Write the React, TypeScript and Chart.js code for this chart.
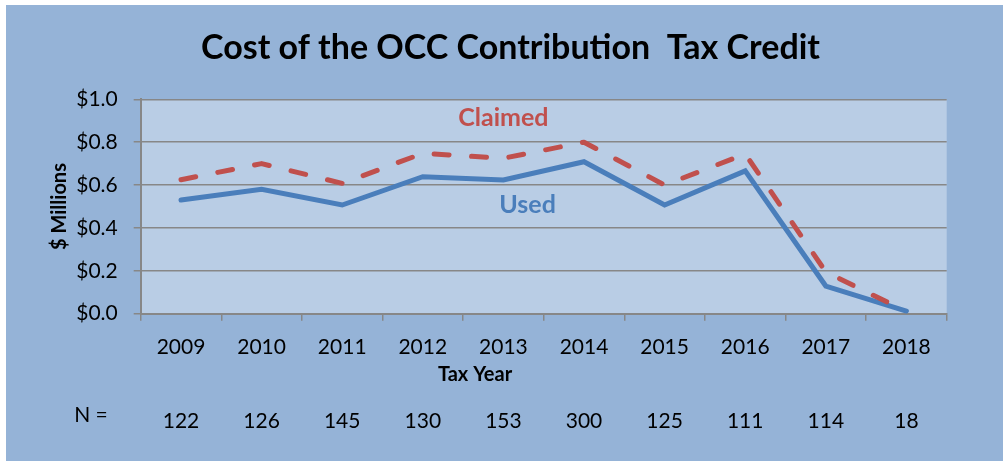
import React, { useEffect, useRef } from "react";
import { Chart, registerables } from "chart.js";

Chart.register(...registerables);

// ---- data ----
const years = ["2009", "2010", "2011", "2012", "2013", "2014", "2015", "2016", "2017", "2018"];
const claimed = [0.625, 0.7, 0.608, 0.748, 0.725, 0.8, 0.6, 0.745, 0.195, 0.01];
const used = [0.53, 0.58, 0.507, 0.639, 0.624, 0.709, 0.507, 0.666, 0.129, 0.012];
const nCounts = [122, 126, 145, 130, 153, 300, 125, 111, 114, 18];
const yTicks = [0, 0.2, 0.4, 0.6, 0.8, 1.0];
const titleText = "Cost of the OCC Contribution  Tax Credit";
const xTitle = "Tax Year";
const yTitle = "$ Millions";
const nLabel = "N =";
// series annotation anchors (category index, value)
const seriesNames = ["Claimed", "Used"];
const seriesLabelX = [4, 4.3];
const seriesLabelY = [0.913, 0.507];

// ---- styles ----
const PANEL_BG = "#95b3d7";
const PLOT_BG = "#b9cde5";
const GRID = "#878787";
const RED = "#c0504d";
const BLUE = "#4a7ebb";
const FONT = "Lato, 'Open Sans', sans-serif";

const decor = {
  id: "decor",
  beforeDraw(chart: any) {
    const { ctx, chartArea: a } = chart;
    ctx.save();
    ctx.fillStyle = PLOT_BG;
    ctx.fillRect(a.left, a.top, a.right - a.left, a.bottom - a.top);
    ctx.restore();
  },
  afterDraw(chart: any) {
    const ctx = chart.ctx;
    const xs = chart.scales.x;
    const ys = chart.scales.y;
    ctx.save();
    ctx.fillStyle = "#000";
    ctx.textAlign = "center";
    ctx.textBaseline = "middle";
    // title
    ctx.font = `bold 34px ${FONT}`;
    ctx.fillText(titleText, chart.width / 2 + 6, 43);
    // x title
    ctx.font = `bold 20px ${FONT}`;
    ctx.fillText(xTitle, 469, 370);
    // N row
    ctx.font = `21px ${FONT}`;
    ctx.fillText(nLabel, 85, 410);
    nCounts.forEach((n, i) => {
      ctx.fillText(String(n), xs.getPixelForValue(i), 416);
    });
    // series labels
    ctx.font = `bold 25px ${FONT}`;
    seriesNames.forEach((s, i) => {
      ctx.fillStyle = i === 0 ? RED : BLUE;
      ctx.fillText(s, xs.getPixelForValue(seriesLabelX[i]), ys.getPixelForValue(seriesLabelY[i]));
    });
    ctx.restore();
  },
};

export default function App() {
  const ref = useRef<HTMLCanvasElement>(null);
  useEffect(() => {
    if (!ref.current) return;
    const chart = new Chart(ref.current, {
      type: "line",
      data: {
        labels: years,
        datasets: [
          {
            label: "Claimed",
            data: claimed,
            borderColor: RED,
            borderWidth: 5,
            borderDash: [15, 22.5],
            borderCapStyle: "round",
            borderJoinStyle: "round",
            pointRadius: 0,
            tension: 0,
            fill: false,
          },
          {
            label: "Used",
            data: used,
            borderColor: BLUE,
            borderWidth: 5,
            borderCapStyle: "round",
            borderJoinStyle: "miter",
            pointRadius: 0,
            tension: 0,
            fill: false,
          },
        ],
      },
      options: {
        responsive: false,
        animation: false,
        devicePixelRatio: 1,
        layout: { padding: { top: 94.3, right: 56.3, left: 0, bottom: 0 } },
        plugins: {
          legend: { display: false },
          title: { display: false },
          tooltip: { enabled: false },
        },
        scales: {
          x: {
            type: "category",
            offset: true,
            grid: {
              offset: true,
              drawOnChartArea: false,
              drawTicks: true,
              tickLength: 7,
              color: GRID,
              lineWidth: 1.5,
            },
            border: { color: GRID, width: 2 },
            ticks: { color: "#000", font: { family: FONT, size: 21 }, padding: 14, maxRotation: 0 },
            afterFit: (s: any) => {
              s.height = 147.3;
            },
          },
          y: {
            min: 0,
            max: 1,
            afterBuildTicks: (s: any) => {
              s.ticks = yTicks.map((v) => ({ value: v }));
            },
            grid: { color: GRID, lineWidth: 1.5, tickLength: 7, drawTicks: true },
            border: { color: GRID, width: 2 },
            ticks: {
              color: "#000",
              font: { family: FONT, size: 21 },
              padding: 16,
              callback: (v: any) => "$" + Number(v).toFixed(1),
            },
            title: {
              display: true,
              text: yTitle,
              color: "#000",
              font: { family: FONT, size: 20, weight: "bold" },
              padding: { top: 42 },
            },
            afterFit: (s: any) => {
              s.width = 134.7;
            },
          },
        },
      },
      plugins: [decor],
    });
    return () => chart.destroy();
  }, []);

  return (
    <div
      style={{
        position: "absolute",
        left: 6,
        top: 5,
        width: 997,
        height: 456,
        background: PANEL_BG,
      }}
    >
      <canvas ref={ref} width={997} height={456} style={{ display: "block" }} />
    </div>
  );
}
